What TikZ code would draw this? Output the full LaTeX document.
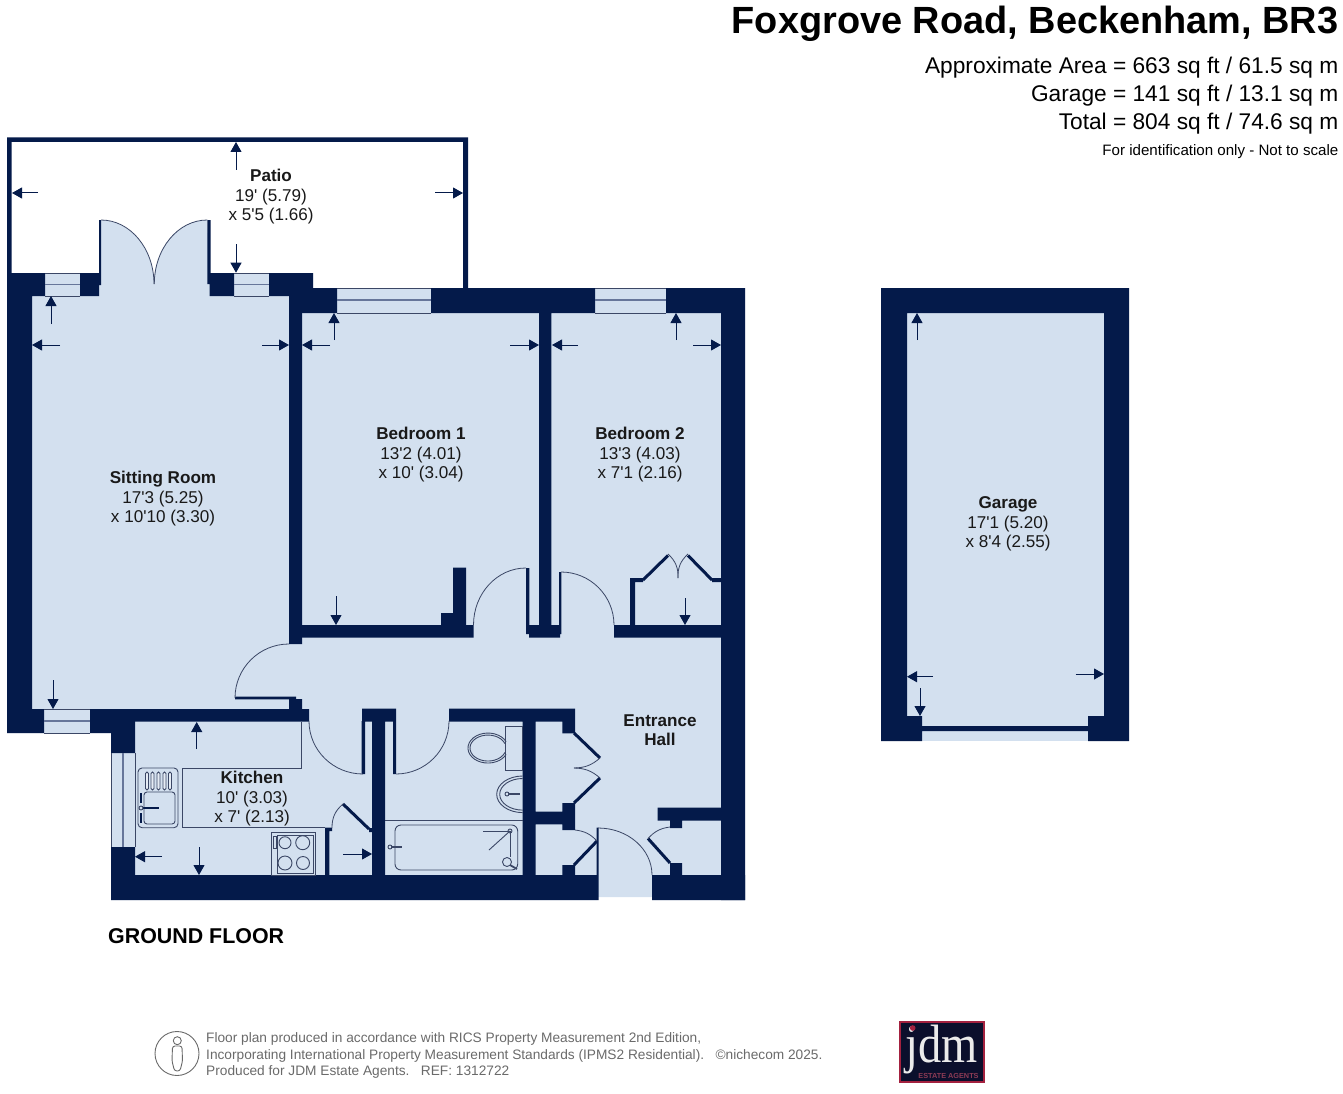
\documentclass[tikz,border=0pt]{standalone}
\usepackage{fontspec}
\usepackage{tikz}
\usepackage{xcolor}
\usetikzlibrary{arrows.meta}
\newfontfamily\plansans{Liberation Sans}
\newfontfamily\logoserif{Liberation Serif}
\definecolor{wallcolor}{HTML}{041A4A}
\definecolor{roomcolor}{HTML}{D3E0EF}
\definecolor{swingcolor}{HTML}{3B4766}
\definecolor{panecolor}{HTML}{67769A}
\definecolor{footcolor}{HTML}{6A6A6A}
\definecolor{logocolor}{HTML}{0B0F2C}
\definecolor{logoedge}{HTML}{A3213F}
\definecolor{logotext}{HTML}{8C3A55}
\tikzstyle{roomlabel} = [
    text=black!90,
    font=\plansans\fontsize{17.1}{19.5}\selectfont,
    align=center,
    inner sep=0pt
    ]
\tikzstyle{headline} = [
    text=black,
    anchor=east,
    inner sep=0pt
    ]
\tikzstyle{footline} = [
    text=footcolor,
    font=\plansans\fontsize{13.7}{15}\selectfont,
    anchor=west,
    inner sep=0pt
    ]
\tikzstyle{wall} = [fill=wallcolor]
\tikzstyle{room} = [fill=roomcolor]
\tikzstyle{dimline} = [
    draw=wallcolor,
    line width=1pt,
    -{Triangle[length=10pt,width=11pt]}
    ]
\tikzstyle{doorswing} = [draw=swingcolor, line width=0.8pt]
\tikzstyle{doorleaf} = [draw=wallcolor, line width=3pt]
\tikzstyle{paneline} = [draw=panecolor, line width=1.6pt]
\tikzstyle{fitting} = [draw=swingcolor, line width=0.9pt]

\begin{document}
\begin{tikzpicture}[x=1pt,y=-1pt]
\useasboundingbox (0,0) rectangle (1343,1094);

% floors
\path[room] (7,273) -- (100,273) -- (100,220) arc[start angle=270,end angle=360,x radius=54,y radius=64]
    arc[start angle=180,end angle=270,x radius=53,y radius=64] -- (210,273) -- (313,273) -- (313,288)
    -- (745,288) -- (745,900) -- (652,900) -- (652,897) -- (597,897) -- (597,900) -- (111,900)
    -- (111,733) -- (7,733) -- cycle;
\path[room] (881,288) rectangle (1129,741);

% patio
\fill[wall] (7,137.5) rectangle (468,142)
    (7,142) rectangle (11.7,273)
    (463,142) rectangle (468,288);

% sitting room walls
\fill[wall] (7,273) rectangle (32,733)
    (32,273) rectangle (45,296)
    (80,273) rectangle (101,285) (80,285) rectangle (99,296)
    (99,220) rectangle (101,273)
    (207.3,220) rectangle (210.7,284)
    (207.3,273) rectangle (234,284) (209.5,284) rectangle (234,296)
    (269,273) rectangle (313,296)
    (289,296) rectangle (302,644)
    (32,709) rectangle (44,733)
    (90,709) rectangle (111,733)
    (90,709) rectangle (309,721.7)
    (289,699) rectangle (302,709)
    (235,696.7) rectangle (296,699.3);

% bedroom walls
\fill[wall] (289,288) rectangle (337,313)
    (431,288) rectangle (595,313)
    (666,288) rectangle (745,313)
    (721,313) rectangle (745,900)
    (302,625) rectangle (473.5,637.5)
    (453,567.7) rectangle (466,625)
    (441,613) rectangle (453,625)
    (526,568) rectangle (529.3,625)
    (526,625) rectangle (561.4,634)
    (529,634) rectangle (560,637.5)
    (539,313) rectangle (551.3,625)
    (559,572) rectangle (561.4,625)
    (614,625) rectangle (721,637.5)
    (630,578) rectangle (635,625)
    (630,578) rectangle (643,582)
    (712,578) rectangle (721,582);

% kitchen and bathroom walls
\fill[wall] (111,721) rectangle (135,753)
    (111,847) rectangle (135,900)
    (111,875) rectangle (597,900)
    (362,708.5) rectangle (396,721.7)
    (372,721) rectangle (385,875)
    (361.7,721) rectangle (365,774)
    (393,721) rectangle (396,774)
    (325,827.7) rectangle (329.3,875)
    (325,827.7) rectangle (332,831)
    (369,828) rectangle (372,832)
    (449,708.5) rectangle (575,721.7)
    (522.7,721) rectangle (535.7,875)
    (562.3,721) rectangle (575,733.3)
    (535,811.7) rectangle (575,824.3)
    (562.3,803) rectangle (575,830)
    (562.3,865) rectangle (575,875)
    (596.7,827.7) rectangle (598.7,900)
    (652,875) rectangle (745,900)
    (670,863) rectangle (682,875)
    (670,820) rectangle (682,828)
    (657.7,807.7) rectangle (721,820.7);

% garage walls
\fill[wall] (881,288) rectangle (1129,313)
    (881,313) rectangle (907,741)
    (1104,313) rectangle (1129,741)
    (907,716) rectangle (922,741)
    (1088,716) rectangle (1104,741)
    (922,726) rectangle (1088,731);

% windows
\draw[paneline] (45,284.5) -- (80,284.5) (234,284.5) -- (269,284.5)
    (337,300) -- (431,300) (595,300) -- (666,300)
    (44,721) -- (90,721) (122.7,753) -- (122.7,847);
\draw[doorswing] (45,296) -- (80,296) (234,296) -- (269,296) (337,313) -- (431,313) (595,313) -- (666,313)
    (44,709) -- (90,709) (44,733) -- (90,733) (111,753) -- (111,847) (135,753) -- (135,847)
    (337,288) -- (431,288) (595,288) -- (666,288) (45,273) -- (80,273) (234,273) -- (269,273);

% door swings
\draw[doorswing] (101,220) arc[start angle=270,end angle=360,x radius=53,y radius=64];
\draw[doorswing] (207.3,220) arc[start angle=270,end angle=180,x radius=53,y radius=64];
\draw[doorswing] (473.5,625) arc[start angle=180,end angle=270,x radius=52.5,y radius=57];
\draw[doorswing] (561,572) arc[start angle=270,end angle=360,x radius=53,y radius=53];
\draw[doorswing] (289,644) arc[start angle=270,end angle=180,x radius=54,y radius=54];
\draw[doorswing] (309,721) arc[start angle=180,end angle=90,x radius=54,y radius=53];
\draw[doorswing] (449,721) arc[start angle=0,end angle=90,x radius=53,y radius=53];
\draw[doorswing] (598,828) arc[start angle=270,end angle=360,x radius=54,y radius=47];

% cupboard doors
\draw[doorleaf] (643,580) -- (668,555.5);
\draw[doorleaf] (712,580) -- (688,555.5);
\draw[doorswing] (668,554) to[bend left=25] (678,578);
\draw[doorswing] (688,554) to[bend right=25] (678,578);
\draw[doorleaf] (574,733) -- (600,758);
\draw[doorleaf] (574,803) -- (600,778);
\draw[doorswing] (600,758) to[bend left=20] (574,768);
\draw[doorswing] (600,778) to[bend right=20] (574,768);
\draw[doorleaf] (574,865) -- (597,841);
\draw[doorswing] (575,830) to[bend left=20] (597,841);
\draw[doorleaf] (670,863) -- (648,838.5);
\draw[doorswing] (648,838.5) to[bend left=20] (670,827);
\draw[doorleaf] (343,804) -- (369,829);
\draw[doorswing] (343,804) to[bend right=25] (332,828);

% kitchen fittings
\draw[fitting] (301,722) -- (301,768.3) -- (182.3,768.3) -- (182.3,827.3) -- (325,827.3);
\draw[fitting, rounded corners=4pt] (138,768) rectangle (178,827.7);
\draw[fitting, rounded corners=3pt] (144,792) rectangle (175,824);
\draw[fitting, rounded corners=1.5pt, fill=white!40!roomcolor] (145.5,772) rectangle (148.5,790) (151,772) rectangle (154,790)
    (157,772) rectangle (160,790) (163,772) rectangle (166,790) (168.5,772) rectangle (171.5,790);
\draw[fitting, line width=1.6pt, draw=wallcolor] (143,808) -- (159,808) (141,793) -- (141,803) (141,813) -- (141,823);
\draw[fitting] (141,808) circle (2);
\draw[fitting] (271.7,832) rectangle (315.7,875);
\draw[fitting] (277,835) rectangle (313,873);
\draw[fitting] (273.5,836) rectangle (276.5,848);
\draw[fitting] (285,842.7) circle (6) (302.7,842.7) circle (7)
    (285,863) circle (7) (303,863) circle (6.5);

% bathroom fittings
\draw[fitting] (505.7,726.7) rectangle (522.7,770);
\draw[fitting] (506.1,741.7) arc[start angle=-25,end angle=-335,x radius=20,y radius=15];
\draw[fitting] (504.9,743.6) arc[start angle=-20,end angle=-340,x radius=18,y radius=13];
\draw[fitting] (522.7,776) arc[start angle=270,end angle=90,x radius=26,y radius=18.3];
\draw[fitting] (522.7,778.5) arc[start angle=270,end angle=90,x radius=23,y radius=15.8];
\draw[fitting, line width=1.5pt] (508,794) -- (520,794);
\draw[fitting] (507,794) circle (2);
\draw[fitting] (385,820) -- (522.7,820);
\draw[fitting, rounded corners=6pt] (395,825) rectangle (517.7,870);
\draw[fitting, line width=1.5pt] (391,847) -- (402,847);
\draw[fitting] (390,847) circle (2);
\draw[fitting] (483,831) -- (510,831) -- (510,857);
\draw[fitting] (510,831) -- (489,850);
\draw[fitting] (510,831) circle (2);
\draw[fitting] (507,862) circle (4.5);
\draw[fitting, line width=1.8pt] (510,865) -- (517,869);

% measurement arrows
\draw[dimline] (236,170) -- (236,142);
\draw[dimline] (38,193) -- (12,193);
\draw[dimline] (435,193) -- (463,193);
\draw[dimline] (236,244) -- (236,272.7);
\draw[dimline] (51,324) -- (51,296);
\draw[dimline] (60,345) -- (32,345);
\draw[dimline] (262,345) -- (289,345);
\draw[dimline] (53,680) -- (53,709);
\draw[dimline] (334,340) -- (334,313);
\draw[dimline] (330,345) -- (302,345);
\draw[dimline] (510,345) -- (539,345);
\draw[dimline] (336,596) -- (336,625);
\draw[dimline] (578,345) -- (552,345);
\draw[dimline] (676,340) -- (676,313);
\draw[dimline] (693,345) -- (721,345);
\draw[dimline] (685,598) -- (685,625);
\draw[dimline] (196.7,749) -- (196.7,722);
\draw[dimline] (162,856.7) -- (135,856.7);
\draw[dimline] (199,847) -- (199,875);
\draw[dimline] (343,854) -- (372,854);
\draw[dimline] (917,340) -- (917,313);
\draw[dimline] (933,676.7) -- (907,676.7);
\draw[dimline] (1075.7,674) -- (1104,674);
\draw[dimline] (920,688) -- (920,716);

% room labels
\node[roomlabel] (patio) at (271,197) {\textbf{Patio}\\19' (5.79)\\x 5'5 (1.66)};
\node[roomlabel] (sitting) at (163,499) {\textbf{Sitting Room}\\17'3 (5.25)\\x 10'10 (3.30)};
\node[roomlabel] (bedone) at (421,455) {\textbf{Bedroom 1}\\13'2 (4.01)\\x 10' (3.04)};
\node[roomlabel] (bedtwo) at (640,455) {\textbf{Bedroom 2}\\13'3 (4.03)\\x 7'1 (2.16)};
\node[roomlabel] (garage) at (1008,524) {\textbf{Garage}\\17'1 (5.20)\\x 8'4 (2.55)};
\node[roomlabel] (kitchen) at (252,799) {\textbf{Kitchen}\\10' (3.03)\\x 7' (2.13)};
\node[roomlabel] (hall) at (660,730) {\textbf{Entrance}\\\textbf{Hall}};
\node[anchor=west, inner sep=0pt, font=\plansans\bfseries\fontsize{21.4}{24}\selectfont] (floor) at (108,936) {GROUND FLOOR};

% header
\node[headline, font=\plansans\bfseries\fontsize{37.9}{40}\selectfont] (title) at (1338.5,24) {Foxgrove Road, Beckenham, BR3};
\node[headline, font=\plansans\fontsize{22.7}{24}\selectfont] (area) at (1338.5,68) {Approximate Area = 663 sq ft / 61.5 sq m};
\node[headline, font=\plansans\fontsize{22.7}{24}\selectfont] (garagearea) at (1338.5,96) {Garage = 141 sq ft / 13.1 sq m};
\node[headline, font=\plansans\fontsize{22.7}{24}\selectfont] (total) at (1338.5,123.5) {Total = 804 sq ft / 74.6 sq m};
\node[headline, font=\plansans\fontsize{15.1}{16}\selectfont] (note) at (1338.5,152) {For identification only - Not to scale};

% footer
\draw[footcolor, line width=0.9pt] (177,1053.5) circle (22);
\draw[footcolor, line width=0.9pt] (177.3,1040.7) circle (4);
\draw[footcolor, line width=0.9pt, rounded corners=2.5pt] (172.5,1046) -- (182,1046) -- (182.5,1061) -- (180,1071) -- (174.5,1071) -- (172,1061) -- cycle;
\node[footline] (footone) at (206,1039) {Floor plan produced in accordance with RICS Property Measurement 2nd Edition,};
\node[footline] (foottwo) at (206,1056) {Incorporating International Property Measurement Standards (IPMS2 Residential).\ \ \ ©nichecom 2025.};
\node[footline] (footthree) at (206,1072) {Produced for JDM Estate Agents.\ \ \ REF:\ 1312722};

% logo
\draw[fill=logocolor, draw=logoedge, line width=1.5pt] (900,1022) rectangle (984,1082);
\node[text=white!92!black, inner sep=0pt, anchor=base west, font=\logoserif\fontsize{54}{56}\selectfont] (jdm) at (905,1062) {\smash{\scalebox{.86}[1]{jdm}}};
\fill[logoedge] (912.7,1028) circle (2.8);
\node[text=logotext, inner sep=0pt, font=\plansans\bfseries\fontsize{7.3}{9}\selectfont] (agents) at (948.5,1076) {ESTATE AGENTS};
\end{tikzpicture}
\end{document}
